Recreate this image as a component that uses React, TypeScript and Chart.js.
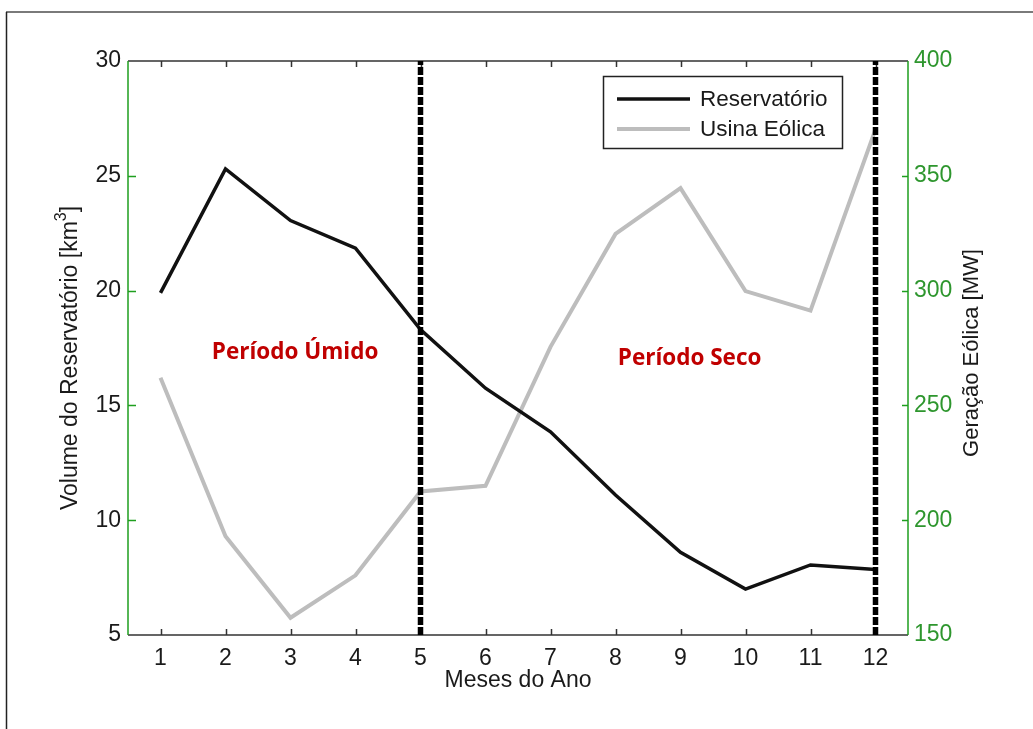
import React, { useEffect, useRef } from 'react';
import { Chart, registerables } from 'chart.js';

Chart.register(...registerables);

// ---- data ----
const months = [1, 2, 3, 4, 5, 6, 7, 8, 9, 10, 11, 12];
const reservatorio = [19.9, 25.3, 23.05, 21.85, 18.3, 15.75, 13.85, 11.1, 8.6, 7.0, 8.05, 7.85];
const usinaEolica = [262, 193, 157.5, 176, 212.5, 215, 275.5, 324.7, 344.6, 299.8, 291.3, 370.2];
const leftTicks = [5, 10, 15, 20, 25, 30];
const rightTicks = [150, 200, 250, 300, 350, 400];
const periodBoundaries = [5, 12];
const seriesNames = ['Reservatório', 'Usina Eólica'];
const periodLabels = ['Período Úmido', 'Período Seco'];
const periodLabelMonth = [3.07, 9.14];
const periodLabelVolume = [17.3, 17.05];

// ---- styles ----
const FONT = '"Liberation Sans", Arial, sans-serif';
const GREEN_LINE = '#1f9f1f';
const GREEN_TEXT = '#2e962e';
const DARK = '#333333';
const TEXT = '#1a1a1a';
const BLACK_SERIES = '#111111';
const GREY_SERIES = '#bdbdbd';

const decorPlugin = {
  id: 'decor',
  beforeDraw(chart: any) {
    const ctx = chart.ctx;
    ctx.save();
    ctx.fillStyle = '#ffffff';
    ctx.fillRect(0, 0, chart.width, chart.height);
    // outer page frame
    ctx.strokeStyle = '#7a7a7a';
    ctx.lineWidth = 2;
    ctx.beginPath();
    ctx.moveTo(6, 12);
    ctx.lineTo(chart.width, 12);
    ctx.stroke();
    ctx.strokeStyle = '#222222';
    ctx.lineWidth = 1.5;
    ctx.beginPath();
    ctx.moveTo(6.5, 12);
    ctx.lineTo(6.5, chart.height);
    ctx.stroke();
    ctx.restore();
  },
  beforeDatasetsDraw(chart: any) {
    const ctx = chart.ctx;
    const { left, right, top, bottom } = chart.chartArea;
    const xs = chart.scales.x;
    const yl = chart.scales.y;
    const yr = chart.scales.y2;
    ctx.save();
    ctx.lineWidth = 1.5;
    // top & bottom frame
    ctx.strokeStyle = DARK;
    ctx.beginPath();
    ctx.moveTo(left, top);
    ctx.lineTo(right, top);
    ctx.moveTo(left, bottom);
    ctx.lineTo(right, bottom);
    ctx.stroke();
    // x ticks inward
    ctx.beginPath();
    months.forEach((m) => {
      const px = Math.round(xs.getPixelForValue(m)) + 0.5;
      ctx.moveTo(px, bottom);
      ctx.lineTo(px, bottom - 6);
      ctx.moveTo(px, top);
      ctx.lineTo(px, top + 6);
    });
    ctx.stroke();
    // green y axes
    ctx.strokeStyle = GREEN_LINE;
    ctx.beginPath();
    ctx.moveTo(left, top);
    ctx.lineTo(left, bottom);
    ctx.moveTo(right, top);
    ctx.lineTo(right, bottom);
    leftTicks.slice(1, -1).forEach((v) => {
      const py = Math.round(yl.getPixelForValue(v)) + 0.5;
      ctx.moveTo(left, py);
      ctx.lineTo(left + 8, py);
    });
    rightTicks.slice(1, -1).forEach((v) => {
      const py = Math.round(yr.getPixelForValue(v)) + 0.5;
      ctx.moveTo(right, py);
      ctx.lineTo(right - 6, py);
    });
    ctx.stroke();
    ctx.restore();
  },
  afterDraw(chart: any) {
    const ctx = chart.ctx;
    const { left, right, top } = chart.chartArea;
    const xs = chart.scales.x;
    const yl = chart.scales.y;
    ctx.save();

    // axis titles
    ctx.fillStyle = TEXT;
    ctx.textBaseline = 'middle';
    ctx.font = `23px ${FONT}`;
    ctx.textAlign = 'center';
    ctx.fillText('Meses do Ano', (left + right) / 2, 681);

    // left title with superscript
    ctx.save();
    ctx.translate(71, 358);
    ctx.rotate(-Math.PI / 2);
    const main = 'Volume do Reservatório [km';
    const sup = '3';
    const end = ']';
    ctx.font = `23px ${FONT}`;
    const w1 = ctx.measureText(main).width;
    const w3 = ctx.measureText(end).width;
    ctx.font = `16px ${FONT}`;
    const w2 = ctx.measureText(sup).width;
    let sx = -(w1 + w2 + w3) / 2;
    ctx.textAlign = 'left';
    ctx.font = `23px ${FONT}`;
    ctx.fillText(main, sx, 0);
    sx += w1;
    ctx.font = `16px ${FONT}`;
    ctx.fillText(sup, sx, -9);
    sx += w2;
    ctx.font = `23px ${FONT}`;
    ctx.fillText(end, sx, 0);
    ctx.restore();

    // right title
    ctx.save();
    ctx.translate(972, 353);
    ctx.rotate(-Math.PI / 2);
    ctx.textAlign = 'center';
    ctx.font = `22px ${FONT}`;
    ctx.fillText('Geração Eólica [MW]', 0, 0);
    ctx.restore();

    // period annotations
    ctx.fillStyle = '#c00000';
    ctx.font = `bold 22.5px "Open Sans", "Noto Sans", sans-serif`;
    ctx.textAlign = 'center';
    periodLabels.forEach((t, i) => {
      ctx.fillText(t, xs.getPixelForValue(periodLabelMonth[i]), yl.getPixelForValue(periodLabelVolume[i]));
    });

    // legend box
    const bw = 239;
    const bh = 72;
    const bx = right - 66 - bw;
    const by = top + 15;
    ctx.fillStyle = '#ffffff';
    ctx.fillRect(bx, by, bw, bh);
    ctx.strokeStyle = '#222222';
    ctx.lineWidth = 1.5;
    ctx.strokeRect(bx + 0.5, by + 0.5, bw, bh);
    const ds = chart.data.datasets;
    const rows = [ds[2], ds[3]];
    rows.forEach((d: any, i: number) => {
      const ry = by + 23 + i * 30;
      ctx.strokeStyle = d.borderColor;
      ctx.lineWidth = d.borderWidth;
      ctx.beginPath();
      ctx.moveTo(bx + 14, ry);
      ctx.lineTo(bx + 87, ry);
      ctx.stroke();
      ctx.fillStyle = TEXT;
      ctx.font = `22.5px ${FONT}`;
      ctx.textAlign = 'left';
      ctx.textBaseline = 'middle';
      ctx.fillText(d.label, bx + 97, ry + 1);
    });
    ctx.restore();
  },
};

export default function App() {
  const ref = useRef<HTMLCanvasElement | null>(null);

  useEffect(() => {
    if (!ref.current) return;
    const boundaryDatasets = periodBoundaries.map((m) => ({
      label: `boundary-${m}`,
      data: [
        { x: m, y: leftTicks[0] },
        { x: m, y: leftTicks[leftTicks.length - 1] },
      ],
      yAxisID: 'y',
      borderColor: '#000000',
      borderWidth: 5.5,
      borderDash: [8, 2],
      pointRadius: 0,
      order: 0,
      clip: false as any,
    }));
    const chart = new Chart(ref.current, {
      type: 'line',
      data: {
        datasets: [
          ...boundaryDatasets,
          {
            label: seriesNames[0],
            data: months.map((m, i) => ({ x: m, y: reservatorio[i] })),
            yAxisID: 'y',
            borderColor: BLACK_SERIES,
            borderWidth: 3.5,
            pointRadius: 0,
            tension: 0,
            order: 1,
          },
          {
            label: seriesNames[1],
            data: months.map((m, i) => ({ x: m, y: usinaEolica[i] })),
            yAxisID: 'y2',
            borderColor: GREY_SERIES,
            borderWidth: 4,
            pointRadius: 0,
            tension: 0,
            order: 2,
          },
        ] as any,
      },
      options: {
        animation: false,
        responsive: false,
        maintainAspectRatio: false,
        layout: { padding: { top: 61, left: 0, right: 0, bottom: 0 } },
        plugins: {
          legend: { display: false },
          tooltip: { enabled: false },
        },
        scales: {
          x: {
            type: 'linear',
            min: 0.5,
            max: 12.5,
            afterBuildTicks: (s: any) => {
              s.ticks = months.map((v) => ({ value: v }));
            },
            afterFit: (s: any) => {
              s.height = 94;
            },
            grid: { display: false, drawTicks: false },
            border: { display: false },
            ticks: {
              padding: 10,
              color: TEXT,
              font: { family: FONT, size: 23 },
              maxRotation: 0,
              autoSkip: false,
            },
          },
          y: {
            type: 'linear',
            position: 'left',
            min: leftTicks[0],
            max: leftTicks[leftTicks.length - 1],
            afterBuildTicks: (s: any) => {
              s.ticks = leftTicks.map((v) => ({ value: v }));
            },
            afterFit: (s: any) => {
              s.width = 128;
            },
            grid: { display: false, drawTicks: false },
            border: { display: false },
            ticks: {
              padding: 7,
              color: TEXT,
              font: { family: FONT, size: 23 },
            },
          },
          y2: {
            type: 'linear',
            position: 'right',
            min: rightTicks[0],
            max: rightTicks[rightTicks.length - 1],
            afterBuildTicks: (s: any) => {
              s.ticks = rightTicks.map((v) => ({ value: v }));
            },
            afterFit: (s: any) => {
              s.width = 125;
            },
            grid: { display: false, drawTicks: false },
            border: { display: false },
            ticks: {
              padding: 6,
              color: GREEN_TEXT,
              font: { family: FONT, size: 23 },
            },
          },
        },
      } as any,
      plugins: [decorPlugin],
    });
    return () => chart.destroy();
  }, []);

  return (
    <div style={{ position: 'fixed', left: 0, top: 0, width: 1033, height: 729, background: '#fff' }}>
      <canvas ref={ref} width={1033} height={729} style={{ display: 'block', width: 1033, height: 729 }} />
    </div>
  );
}
